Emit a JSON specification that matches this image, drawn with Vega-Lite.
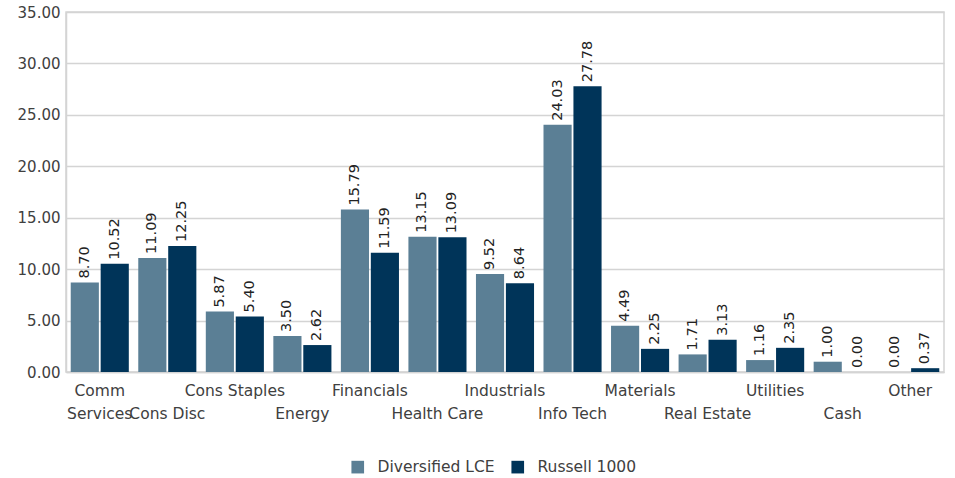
{
  "$schema": "https://vega.github.io/schema/vega-lite/v6.json",
  "width": 878,
  "height": 360,
  "autosize": {"type": "none"},
  "padding": {"left": 66, "top": 12, "right": 11, "bottom": 106},
  "background": "white",
  "config": {
    "font": "DejaVu Sans",
    "view": {"stroke": "#d4d4d4", "strokeWidth": 1.5},
    "axis": {"labelColor": "#404040", "labelFont": "DejaVu Sans"}
  },
  "data": {
    "values": [
      {"category": "Comm Services", "series": "Diversified LCE", "value": 8.70},
      {"category": "Comm Services", "series": "Russell 1000", "value": 10.52},
      {"category": "Cons Disc", "series": "Diversified LCE", "value": 11.09},
      {"category": "Cons Disc", "series": "Russell 1000", "value": 12.25},
      {"category": "Cons Staples", "series": "Diversified LCE", "value": 5.87},
      {"category": "Cons Staples", "series": "Russell 1000", "value": 5.40},
      {"category": "Energy", "series": "Diversified LCE", "value": 3.50},
      {"category": "Energy", "series": "Russell 1000", "value": 2.62},
      {"category": "Financials", "series": "Diversified LCE", "value": 15.79},
      {"category": "Financials", "series": "Russell 1000", "value": 11.59},
      {"category": "Health Care", "series": "Diversified LCE", "value": 13.15},
      {"category": "Health Care", "series": "Russell 1000", "value": 13.09},
      {"category": "Industrials", "series": "Diversified LCE", "value": 9.52},
      {"category": "Industrials", "series": "Russell 1000", "value": 8.64},
      {"category": "Info Tech", "series": "Diversified LCE", "value": 24.03},
      {"category": "Info Tech", "series": "Russell 1000", "value": 27.78},
      {"category": "Materials", "series": "Diversified LCE", "value": 4.49},
      {"category": "Materials", "series": "Russell 1000", "value": 2.25},
      {"category": "Real Estate", "series": "Diversified LCE", "value": 1.71},
      {"category": "Real Estate", "series": "Russell 1000", "value": 3.13},
      {"category": "Utilities", "series": "Diversified LCE", "value": 1.16},
      {"category": "Utilities", "series": "Russell 1000", "value": 2.35},
      {"category": "Cash", "series": "Diversified LCE", "value": 1.00},
      {"category": "Cash", "series": "Russell 1000", "value": 0.00},
      {"category": "Other", "series": "Diversified LCE", "value": 0.00},
      {"category": "Other", "series": "Russell 1000", "value": 0.37}
    ]
  },
  "encoding": {
    "x": {
      "field": "category",
      "type": "nominal",
      "sort": null,
      "scale": {"paddingInner": 0.14, "paddingOuter": 0.07},
      "axis": {
        "title": null,
        "labelAngle": 0,
        "labelAlign": "center",
        "labelBaseline": "top",
        "labelPadding": 11,
        "labelFontSize": 15.5,
        "labelLineHeight": 23,
        "labelOverlap": false,
        "labelLimit": 200,
        "ticks": false,
        "domainColor": "#d4d4d4",
        "domainWidth": 1.5,
        "labelExpr": "datum.value == 'Comm Services' ? ['Comm', 'Services'] : (indexof(['Cons Disc', 'Energy', 'Health Care', 'Info Tech', 'Real Estate', 'Cash'], datum.value) >= 0 ? ['', datum.value] : datum.value)"
      }
    },
    "xOffset": {
      "field": "series",
      "type": "nominal",
      "scale": {"paddingInner": 0.06}
    },
    "y": {
      "field": "value",
      "type": "quantitative",
      "scale": {"domain": [0, 35]},
      "axis": {
        "title": null,
        "format": ".2f",
        "values": [0, 5, 10, 15, 20, 25, 30, 35],
        "ticks": false,
        "labelPadding": 6,
        "labelFontSize": 15,
        "gridColor": "#d4d4d4",
        "gridWidth": 1.5,
        "domainColor": "#d4d4d4",
        "domainWidth": 1.5
      }
    }
  },
  "layer": [
    {
      "mark": {"type": "bar"},
      "encoding": {
        "color": {
          "field": "series",
          "type": "nominal",
          "scale": {"domain": ["Diversified LCE", "Russell 1000"], "range": ["#5B7F95", "#003459"]},
          "legend": {
            "title": null,
            "orient": "none",
            "direction": "horizontal",
            "legendX": 284,
            "legendY": 447,
            "symbolType": "square",
            "symbolSize": 160,
            "symbolStrokeWidth": 0,
            "labelFontSize": 15.5,
            "labelColor": "#404040",
            "labelOffset": 12,
            "columnPadding": 15
          }
        }
      }
    },
    {
      "mark": {
        "type": "text",
        "angle": 270,
        "align": "left",
        "baseline": "middle",
        "dx": 4,
        "fontSize": 14.5,
        "color": "#222222"
      },
      "encoding": {
        "text": {"field": "value", "type": "quantitative", "format": ".2f"}
      }
    }
  ]
}
